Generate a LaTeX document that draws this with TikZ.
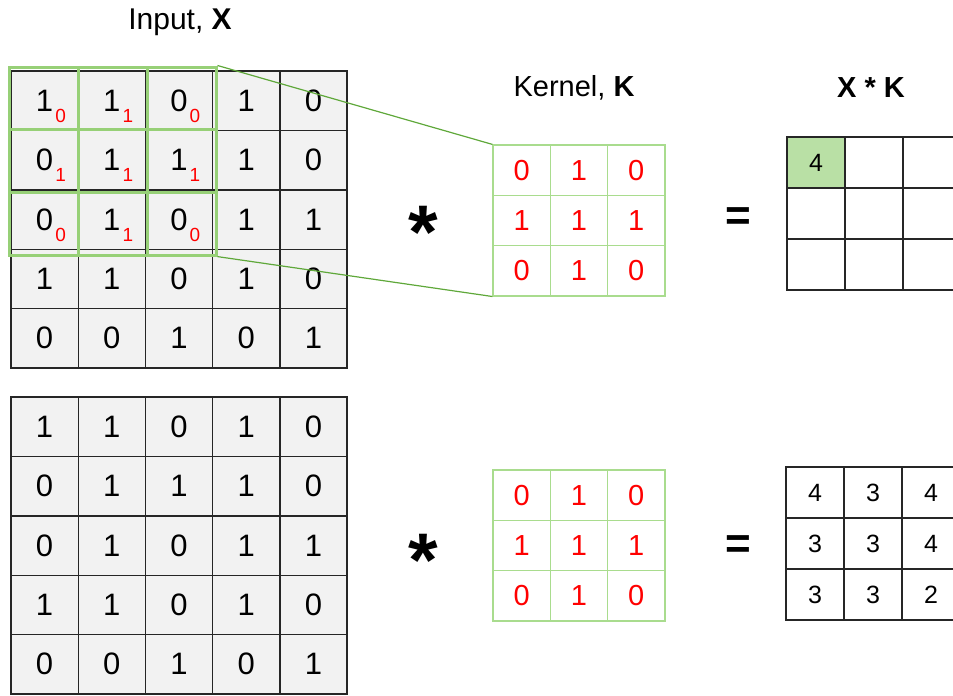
\documentclass[tikz,border=0pt]{standalone}
\usepackage{fontspec}
\setmainfont{Liberation Sans}
\definecolor{cellgray}{HTML}{F2F2F2}
\definecolor{wingreen}{HTML}{97D077}
\definecolor{linkgreen}{HTML}{5FA83A}
\definecolor{kerngreen}{HTML}{A9DC8E}
\definecolor{hitgreen}{HTML}{B9E0A5}
\tikzset{every picture/.style = {x=1pt, y=-1pt}}
\tikzset{incell/.style = {draw=black!85, fill=cellgray, line width=1.4pt, inner sep=0,
  minimum width=67.2pt, minimum height=59.4pt, font=\fontsize{31}{36}\selectfont}}
\tikzset{wincell/.style = {draw=wingreen, line width=3pt, inner sep=0,
  minimum width=69pt, minimum height=62.7pt}}
\tikzset{sub/.style = {red, inner sep=0, font=\fontsize{19}{22}\selectfont}}
\tikzset{kcell/.style = {draw=kerngreen, line width=1.2pt, inner sep=0, text=red,
  minimum width=57.3pt, minimum height=50.3pt, font=\fontsize{29}{34}\selectfont}}
\tikzset{ocell/.style = {draw=black!85, line width=1.4pt, inner sep=0,
  minimum width=58pt, minimum height=51pt, font=\fontsize{25}{29}\selectfont}}
\tikzset{title/.style = {inner sep=0, font=\fontsize{29}{33}\selectfont}}
\tikzset{star/.style = {anchor=base, inner sep=0, font=\fontsize{76}{76}\selectfont\bfseries}}
\tikzset{link/.style = {linkgreen, line width=1.2pt}}

\begin{document}
\begin{tikzpicture}
  \useasboundingbox (0, 0) rectangle (953, 696);

  % input, top and bottom
  \foreach [count=\r] \row in {{1,1,0,1,0},{0,1,1,1,0},{0,1,0,1,1},{1,1,0,1,0},{0,0,1,0,1}}
    \foreach [count=\c] \v in \row {
      \node[incell] (a\r\c) at ({11+67.2*(\c-0.5)}, {71+59.4*(\r-0.5)}) {\v};
      \node[incell] (b\r\c) at ({11+67.2*(\c-0.5)}, {397+59.4*(\r-0.5)}) {\v};
    }

  % kernel weights on the window
  \foreach [count=\r] \row in {{0,1,0},{1,1,1},{0,1,0}}
    \foreach [count=\c] \v in \row {
      \node[sub] (s\r\c) at ([xshift=16pt, yshift=-15pt]a\r\c) {\v};
      \node[wincell] (w\r\c) at ({9+69*(\c-0.5)}, {67+62.7*(\r-0.5)}) {};
      \node[kcell] (k\r\c) at ({493+57.3*(\c-0.5)}, {145+50.3*(\r-0.5)}) {\v};
      \node[kcell] (m\r\c) at ({493+57.3*(\c-0.5)}, {470+50.3*(\r-0.5)}) {\v};
    }

  \draw[link] (w13.north east) -- (k11.north west);
  \draw[link] (w33.south east) -- (k31.south west);

  % outputs
  \node[ocell, fill=hitgreen] (o11) at ({787+29}, {137+25.5}) {4};
  \foreach \r/\c in {1/2,1/3,2/1,2/2,2/3,3/1,3/2,3/3}
    \node[ocell] (o\r\c) at ({787+58*(\c-0.5)}, {137+51*(\r-0.5)}) {};
  \foreach [count=\r] \row in {{4,3,4},{3,3,4},{3,3,2}}
    \foreach [count=\c] \v in \row
      \node[ocell] (p\r\c) at ({786+58*(\c-0.5)}, {467+51*(\r-0.5)}) {\v};

  \node[title, font=\fontsize{30}{34}\selectfont] (inlbl) at (180, 22) {Input, \textbf{X}};
  \node[title] (klbl) at (574, 88) {Kernel, \textbf{K}};
  \node[title] (olbl) at (871, 88) {\textbf{X * K}};

  \node[star] (conv1) at (423, 258) {*};
  \node[star] (conv2) at (423, 586) {*};
  \node[star, font=\fontsize{44}{44}\selectfont\bfseries] (eq1) at (738, 230) {=};
  \node[star, font=\fontsize{44}{44}\selectfont\bfseries] (eq2) at (738, 558) {=};
\end{tikzpicture}
\end{document}
